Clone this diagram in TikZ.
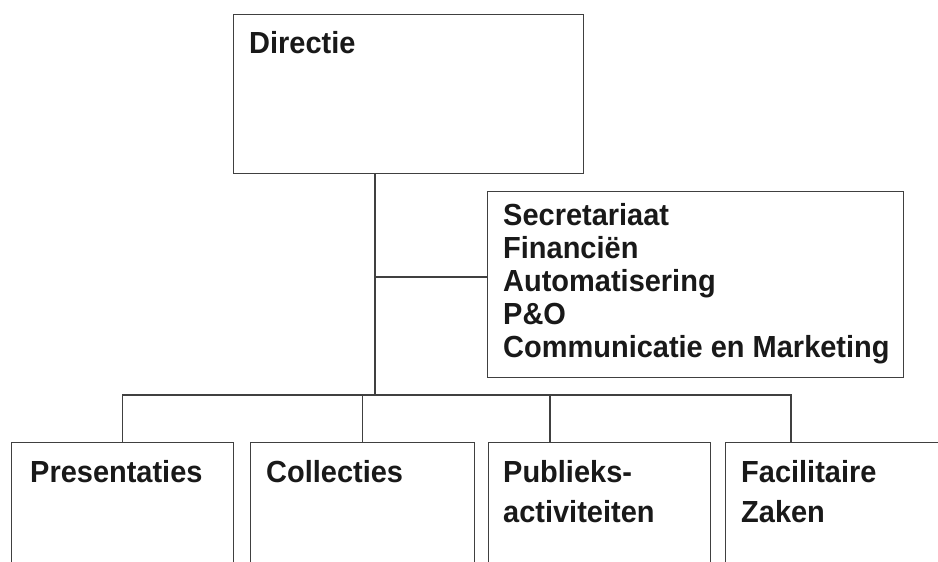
\documentclass[tikz,border=0pt]{standalone}
\usepackage{fontspec}
\setmainfont{Liberation Sans}[FakeStretch=0.95]
\begin{document}
\begin{tikzpicture}[x=1pt,y=-1pt,
  box/.style={draw=black!75,line width=1.1pt,anchor=north west,inner sep=0pt},
  lbl/.style={anchor=base west,inner sep=0pt,align=left,text=black!90,
    font=\bfseries\fontsize{30.5}{33}\selectfont},
  lbltwo/.style={lbl,font=\bfseries\fontsize{30.5}{40}\selectfont},
  conn/.style={draw=black!75,line width=1.1pt}]
\useasboundingbox (0,0) rectangle (938,562);
\clip (0,0) rectangle (938,562);
% boxes
\node[box,minimum width=350pt,minimum height=159pt] (dir) at (233,14) {};
\node[box,minimum width=416pt,minimum height=186pt] (sec) at (487,191) {};
\node[box,minimum width=222pt,minimum height=160pt] (pre) at (11,442) {};
\node[box,minimum width=224pt,minimum height=160pt] (col) at (250,442) {};
\node[box,minimum width=222pt,minimum height=160pt] (pub) at (488,442) {};
\node[box,minimum width=260pt,minimum height=160pt] (fac) at (725,442) {};
% texts
\node[lbl] (tdir) at (249,53) {Directie};
\node[lbl] (tsec) at (503,357) {Secretariaat\\Financiën\\Automatisering\\P\&O\\Communicatie en Marketing};
\node[lbl] (tpre) at (30,482) {Presentaties};
\node[lbl] (tcol) at (266,482) {Collecties};
\node[lbltwo] (tpub) at (503,522) {Publieks-\\activiteiten};
\node[lbltwo] (tfac) at (741,522) {Facilitaire\\Zaken};
% connector points
\coordinate (t) at (375,395);
\coordinate (sj) at (375,277);
\coordinate (d3) at (550,395);
\coordinate (d4) at (791,395);
% connectors
\draw[conn] (dir.south -| t) -- (t);
\draw[conn] (sj) -- (sj -| sec.west);
\draw[conn] (pre.north) -- (pre.north |- t) -- (d4) -- (d4 |- fac.north);
\draw[conn] (col.north |- t) -- (col.north);
\draw[conn] (d3) -- (d3 |- pub.north);
\end{tikzpicture}
\end{document}
